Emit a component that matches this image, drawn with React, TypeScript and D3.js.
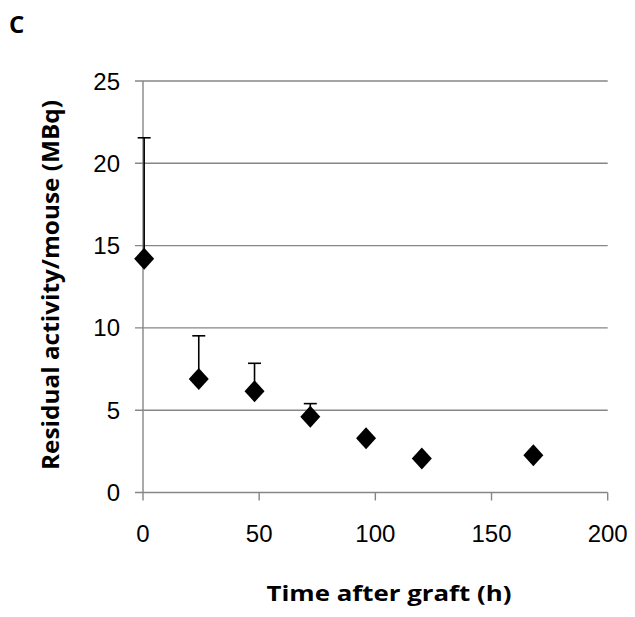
import React from "react";
import * as d3 from "d3";

const times = [0.5, 24, 48, 72, 96, 120, 168];
const activity = [14.2, 6.9, 6.15, 4.6, 3.3, 2.07, 2.27];
const errorsUp = [7.35, 2.62, 1.7, 0.8, 0, 0, 0];
const xTicks = [0, 50, 100, 150, 200];
const yTicks = [0, 5, 10, 15, 20, 25];

const W = 635;
const H = 617;
const left = 143;
const right = 607.7;
const top = 81;
const bottom = 492.5;

export default function App() {
  const x = d3.scaleLinear().domain([0, 200]).range([left, right]);
  const y = d3.scaleLinear().domain([0, 25]).range([bottom, top]);
  const diamondPath = `M0,-11L10,0L0,11L-10,0Z`;
  const axisFont = "'Liberation Sans', Arial, sans-serif";
  const labelFont = "'Open Sans', 'Noto Sans', sans-serif";
  return (
    <svg
      width={W}
      height={H}
      style={{ position: "absolute", left: 0, top: 0, background: "#fff" }}
    >
      <text x={9} y={33} fontFamily={labelFont} fontWeight="bold" fontSize={24} fill="#000">
        C
      </text>
      {yTicks.map((t) => (
        <g key={"y" + t}>
          <line
            x1={left - 8}
            x2={right}
            y1={y(t)}
            y2={y(t)}
            stroke="#868686"
            strokeWidth={1.4}
          />
          <text
            x={left - 23}
            y={y(t) + 8.5}
            textAnchor="end"
            fontFamily={axisFont}
            fontSize={24}
            fill="#000"
          >
            {t}
          </text>
        </g>
      ))}
      <line x1={left} x2={left} y1={top} y2={bottom} stroke="#868686" strokeWidth={1.4} />
      {xTicks.map((t) => (
        <g key={"x" + t}>
          <line x1={x(t)} x2={x(t)} y1={bottom} y2={bottom + 8} stroke="#868686" strokeWidth={1.4} />
          <text
            x={x(t)}
            y={541.5}
            textAnchor="middle"
            fontFamily={axisFont}
            fontSize={24}
            fill="#000"
          >
            {t}
          </text>
        </g>
      ))}
      {times.map((t, i) =>
        errorsUp[i] > 0 ? (
          <g key={"e" + i}>
            <line
              x1={x(t)}
              x2={x(t)}
              y1={y(activity[i])}
              y2={y(activity[i] + errorsUp[i])}
              stroke="#000"
              strokeWidth={1.6}
            />
            <line
              x1={x(t) - 6.5}
              x2={x(t) + 6.5}
              y1={y(activity[i] + errorsUp[i])}
              y2={y(activity[i] + errorsUp[i])}
              stroke="#000"
              strokeWidth={1.6}
            />
          </g>
        ) : null
      )}
      {times.map((t, i) => (
        <path
          key={"p" + i}
          d={diamondPath}
          transform={`translate(${x(t)},${y(activity[i])})`}
          fill="#000"
        />
      ))}
      <text
        transform={`translate(58.5,285) rotate(-90)`}
        textAnchor="middle"
        fontFamily={labelFont}
        fontWeight="bold"
        fontSize={24}
        textLength={370}
        lengthAdjust="spacingAndGlyphs"
        fill="#000"
      >
        Residual activity/mouse (MBq)
      </text>
      <text
        x={389}
        y={601}
        textAnchor="middle"
        fontFamily={labelFont}
        fontWeight="bold"
        fontSize={21.5}
        textLength={245}
        lengthAdjust="spacingAndGlyphs"
        fill="#000"
      >
        Time after graft (h)
      </text>
    </svg>
  );
}
